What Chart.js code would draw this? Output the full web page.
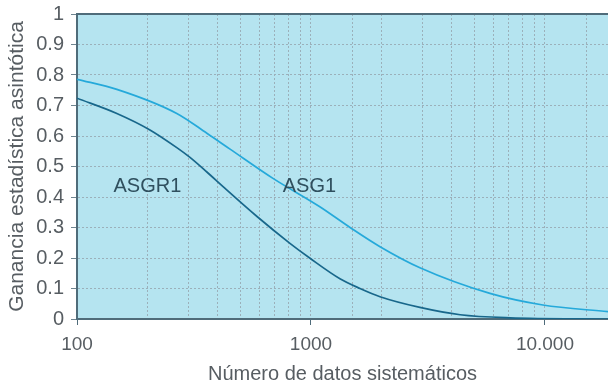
<!DOCTYPE html>
<html>
<head>
<meta charset="utf-8">
<script src="https://cdn.jsdelivr.net/npm/chart.js@4/dist/chart.umd.min.js"></script>
<style>
html,body{margin:0;padding:0;background:#fff;}
#wrap{width:608px;height:386px;}
</style>
</head>
<body>
<div id="wrap"><canvas id="c" width="608" height="386"></canvas></div>
<script>
// Data
const asg1X  = [100, 148, 267, 359, 451, 688, 1091, 1469, 1973, 2922, 5820, 9800, 18600];
const asg1Y  = [0.786, 0.753, 0.674, 0.609, 0.557, 0.461, 0.368, 0.300, 0.237, 0.168, 0.084, 0.046, 0.024];
const asgr1X = [100, 148, 205, 267, 304, 359, 421, 588, 813, 991, 1330, 1620, 1973, 2922, 4340, 7100, 18600];
const asgr1Y = [0.724, 0.674, 0.620, 0.562, 0.530, 0.482, 0.434, 0.336, 0.248, 0.199, 0.132, 0.100, 0.073, 0.038, 0.014, 0.004, 0.0];
const xLabelValues = [100, 1000, 10000];
const xLabelTexts  = ['100', '1000', '10.000'];
const seriesNames = ['ASG1', 'ASGR1'];
const annotations = [
  {text: 'ASGR1', x: 200, y: 0.436},
  {text: 'ASG1',  x: 985, y: 0.436}
];

const FONT = "'Liberation Sans', Arial, sans-serif";
const TEXT = '#575d62';

const bgPlugin = {
  id: 'bg',
  beforeDraw(chart) {
    const {ctx, chartArea: a} = chart;
    ctx.save();
    ctx.fillStyle = '#b5e4f0';
    ctx.fillRect(a.left, a.top, a.right - a.left, a.bottom - a.top);
    ctx.restore();
  },
  afterDatasetsDraw(chart) {
    const {ctx} = chart;
    const xs = chart.scales.x, ys = chart.scales.y;
    ctx.save();
    ctx.font = "20px " + FONT;
    ctx.fillStyle = '#2f4f5e';
    ctx.textAlign = 'center';
    ctx.textBaseline = 'middle';
    annotations.forEach(a => ctx.fillText(a.text, xs.getPixelForValue(a.x), ys.getPixelForValue(a.y)));
    ctx.restore();
  }
};

const toPts = (xs, ys) => xs.map((x, i) => ({x, y: ys[i]}));

new Chart(document.getElementById('c'), {
  type: 'line',
  data: {
    datasets: [
      {label: seriesNames[0], data: toPts(asg1X, asg1Y), borderColor: '#25a9da', borderWidth: 1.7,
       pointRadius: 0, cubicInterpolationMode: 'monotone', fill: false},
      {label: seriesNames[1], data: toPts(asgr1X, asgr1Y), borderColor: '#18678b', borderWidth: 1.7,
       pointRadius: 0, cubicInterpolationMode: 'monotone', fill: false}
    ]
  },
  options: {
    responsive: false,
    animation: false,
    layout: {padding: 0},
    plugins: {legend: {display: false}, tooltip: {enabled: false}},
    scales: {
      x: {
        type: 'logarithmic',
        min: 100, max: 18600,
        afterFit(s) { s.height = 67; s.paddingLeft = 0; s.paddingRight = 0; },
        border: {color: '#4f6c7a', width: 2, dash: [2, 2]},
        grid: {
          color: '#9bb0ba',
          lineWidth: 1,
          tickLength: 6,
          tickColor: ctx => xLabelValues.includes(ctx.tick && ctx.tick.value) ? '#4f6c7a' : 'rgba(0,0,0,0)'
        },
        ticks: {
          autoSkip: false,
          maxRotation: 0,
          padding: 8,
          color: TEXT,
          font: {family: FONT, size: 19},
          callback: (v) => { const i = xLabelValues.indexOf(v); return i >= 0 ? xLabelTexts[i] : ''; }
        },
        title: {display: true, text: 'Número de datos sistemáticos', color: TEXT,
                font: {family: FONT, size: 20}, padding: {top: 2, bottom: 0}}
      },
      x2: {
        type: 'logarithmic', position: 'top', min: 100, max: 18600,
        afterFit(s) { s.height = 14; s.paddingLeft = 0; s.paddingRight = 0; },
        grid: {display: false, drawTicks: false},
        ticks: {display: false},
        border: {color: '#4f6c7a', width: 2}
      },
      y: {
        min: 0, max: 1,
        afterFit(s) { s.width = 77; s.paddingTop = 0; s.paddingBottom = 0; },
        border: {color: '#4f6c7a', width: 2, dash: [2, 2]},
        grid: {color: '#9bb0ba', lineWidth: 1, tickLength: 6, tickColor: '#6f8590'},
        ticks: {
          stepSize: 0.1, padding: 7, color: TEXT,
          font: {family: FONT, size: 20},
          callback: v => Number(v.toFixed(1)).toString()
        },
        title: {display: true, text: 'Ganancia estadística asintótica', color: TEXT,
                font: {family: FONT, size: 21}, padding: {top: 5, bottom: 0}}
      }
    }
  },
  plugins: [bgPlugin]
});
</script>
</body>
</html>
